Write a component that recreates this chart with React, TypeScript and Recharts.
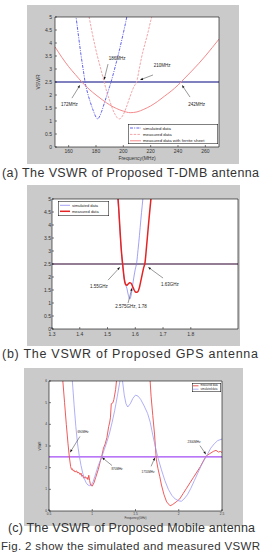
import {
  LineChart,
  Line,
  XAxis,
  YAxis,
  CartesianGrid,
  ReferenceLine,
  ReferenceDot,
  Legend,
} from "recharts";

type Pt = [number, number];

const FONT = '"Liberation Sans", Arial, sans-serif';
const VSWR_LIMIT = 2.5;

// (a) T-DMB antenna, frequency in MHz
const tdmbFreqTicks = [160, 180, 200, 220, 240, 260];
const tdmbVswrTicks = [0, 0.5, 1, 1.5, 2, 2.5, 3, 3.5, 4, 4.5, 5];
const tdmbSimulated: Pt[] = [
  [164, 5.6], [165.4, 5.0], [167, 4.35], [169, 3.55], [171, 2.85], [172, 2.5],
  [174, 2.05], [176, 1.7], [178, 1.4], [180, 1.15], [181.2, 1.08], [182, 1.12],
  [184, 1.35], [186, 1.67], [188, 2.0], [190, 2.33], [191, 2.5], [193, 2.88],
  [195, 3.28], [197, 3.7], [199, 4.15], [201, 4.62], [202.5, 5.0], [203.5, 5.3],
];
const tdmbMeasured: Pt[] = [
  [174, 5.3], [175, 5.0], [177, 4.45], [179, 3.95], [181, 3.5], [183, 3.1],
  [185, 2.7], [186, 2.5], [188, 2.1], [190, 1.78], [192, 1.48], [194, 1.25],
  [196, 1.1], [197, 1.08], [198, 1.1], [200, 1.25], [202, 1.5], [204, 1.8],
  [206, 2.1], [208, 2.35], [209.7, 2.5], [212, 3.1], [214, 3.6], [216, 4.0],
  [218, 4.4], [220, 4.85], [221, 5.05], [222, 5.3],
];
const tdmbFerrite: Pt[] = [
  [150, 3.85], [155, 3.45], [160, 3.09], [165, 2.78], [170, 2.48], [175, 2.22],
  [180, 2.0], [185, 1.8], [190, 1.62], [195, 1.48], [200, 1.38], [205, 1.32],
  [210, 1.35], [215, 1.45], [220, 1.58], [225, 1.75], [230, 1.95], [235, 2.15],
  [240, 2.38], [245, 2.65], [250, 2.92], [255, 3.2], [260, 3.5], [265, 3.82],
  [270, 4.15],
];
const tdmbMarks = [
  { text: "172MHz", label: [160.5, 1.65] as Pt, from: [162.4, 1.88] as Pt, to: [168.3, 2.38] as Pt },
  { text: "186MHz", label: [195.4, 3.42] as Pt, from: [188.8, 3.19] as Pt, to: [185.9, 2.58] as Pt },
  { text: "210MHz", label: [228.3, 3.12] as Pt, from: [221.7, 2.77] as Pt, to: [212.2, 2.58] as Pt },
  { text: "242MHz", label: [253.7, 1.65] as Pt, from: [248.8, 1.92] as Pt, to: [242.9, 2.38] as Pt },
];

// (b) GPS antenna, frequency in GHz
const gpsFreqTicks = [1.3, 1.4, 1.5, 1.6, 1.7, 1.8];
const gpsVswrTicks = [0, 0.5, 1, 1.5, 2, 2.5, 3, 3.5, 4, 4.5, 5];
const gpsSimulated: Pt[] = [
  [1.535, 5.3], [1.54, 4.6], [1.545, 3.75], [1.55, 2.95], [1.555, 2.4], [1.56, 1.95],
  [1.565, 1.72], [1.57, 1.55], [1.575, 1.3], [1.58, 1.15], [1.585, 1.3], [1.59, 1.65],
  [1.595, 2.0], [1.6, 2.3], [1.605, 2.55], [1.61, 3.05], [1.615, 3.6], [1.62, 4.2],
  [1.625, 4.75], [1.63, 5.3],
];
const gpsMeasured: Pt[] = [
  [1.535, 5.4], [1.54, 4.7], [1.545, 3.8], [1.55, 3.0], [1.555, 2.45], [1.56, 1.95],
  [1.565, 1.72], [1.57, 1.68], [1.575, 1.74], [1.58, 1.78], [1.585, 1.76], [1.59, 1.65],
  [1.595, 1.52], [1.6, 1.43], [1.605, 1.41], [1.61, 1.45], [1.615, 1.6], [1.62, 1.85],
  [1.625, 2.1], [1.63, 2.35], [1.635, 2.55], [1.64, 3.1], [1.645, 3.7], [1.65, 4.3],
  [1.655, 4.85], [1.66, 5.4],
];
const gpsMarks = [
  { text: "1.55GHz", label: [1.469, 1.62] as Pt, from: [1.502, 1.88] as Pt, to: [1.545, 2.38] as Pt },
  { text: "1.63GHz", label: [1.725, 1.73] as Pt, from: [1.7, 1.96] as Pt, to: [1.646, 2.38] as Pt },
  { text: "2.575GHz, 1.78", label: [1.585, 0.85] as Pt, from: [1.574, 1.0] as Pt, to: [1.588, 1.58] as Pt },
];

// (c) Mobile antenna, frequency in GHz
const mobileFreqTicks = [0.5, 1, 1.5, 2, 2.5];
const mobileVswrTicks = [0, 1, 2, 3, 4, 5, 6];
const mobileMeasured: Pt[] = [
  [0.64, 7.0], [0.66, 6.0], [0.68, 5.0], [0.7, 4.0], [0.72, 3.1], [0.735, 2.5],
  [0.75, 2.05], [0.76, 1.92], [0.77, 1.95], [0.78, 1.85], [0.79, 1.88], [0.8, 1.8],
  [0.82, 1.85], [0.83, 1.75], [0.84, 1.8], [0.86, 1.68], [0.87, 1.75], [0.88, 1.6],
  [0.89, 1.65], [0.9, 1.52], [0.92, 1.58], [0.93, 1.5], [0.94, 1.55], [0.95, 1.45],
  [0.96, 1.65], [0.97, 1.4], [0.98, 1.2], [1.0, 1.15], [1.02, 1.3], [1.04, 1.55],
  [1.07, 1.92], [1.09, 2.25], [1.11, 2.53], [1.13, 2.9], [1.15, 3.1], [1.17, 3.4],
  [1.19, 3.9], [1.2, 4.06], [1.21, 4.3], [1.22, 4.95], [1.24, 5.0], [1.25, 5.15],
  [1.27, 5.6], [1.28, 6.0], [1.3, 6.8], [1.45, 9.0], [1.64, 7.5], [1.66, 6.6],
  [1.68, 5.3], [1.7, 4.4], [1.72, 3.55], [1.74, 2.4], [1.76, 1.95], [1.78, 1.6],
  [1.8, 1.2], [1.83, 0.75], [1.86, 0.42], [1.9, 0.24], [1.93, 0.3], [1.97, 0.42],
  [2.01, 0.55], [2.05, 0.8], [2.09, 1.05], [2.13, 1.3], [2.17, 1.55], [2.21, 1.8],
  [2.25, 2.05], [2.29, 2.35], [2.32, 2.55], [2.36, 2.65], [2.4, 2.75], [2.43, 2.8],
  [2.46, 2.72], [2.48, 2.75], [2.5, 2.7],
];
const mobileSimulated: Pt[] = [
  [0.76, 6.6], [0.77, 6.0], [0.79, 4.9], [0.81, 3.9], [0.83, 3.1], [0.85, 2.55],
  [0.87, 2.1], [0.89, 1.75], [0.91, 1.48], [0.93, 1.3], [0.95, 1.2], [0.97, 1.17],
  [0.99, 1.2], [1.01, 1.35], [1.03, 1.6], [1.05, 1.85], [1.07, 2.1], [1.09, 2.3],
  [1.11, 2.5], [1.14, 2.85], [1.17, 3.2], [1.2, 3.6], [1.23, 4.1], [1.26, 4.65],
  [1.29, 5.3], [1.32, 6.0], [1.335, 6.8], [1.345, 6.6], [1.35, 6.0], [1.37, 5.35],
  [1.39, 4.95], [1.41, 4.8], [1.44, 4.95], [1.47, 5.2], [1.5, 5.35], [1.53, 5.3],
  [1.56, 5.15], [1.6, 4.85], [1.64, 4.5], [1.67, 4.1], [1.7, 3.5], [1.73, 2.95],
  [1.76, 2.45], [1.8, 1.9], [1.84, 1.4], [1.88, 1.0], [1.92, 0.72], [1.96, 0.55],
  [2.0, 0.47], [2.03, 0.45], [2.06, 0.55], [2.1, 0.75], [2.14, 1.05], [2.18, 1.4],
  [2.22, 1.75], [2.26, 2.1], [2.3, 2.4], [2.33, 2.6], [2.37, 2.9], [2.41, 3.1],
  [2.45, 3.25], [2.5, 3.32],
];
const mobileMarks = [
  { text: "690MHz", label: [0.893, 3.66] as Pt, from: [0.858, 3.44] as Pt, to: [0.743, 2.7] as Pt },
  { text: "870MHz", label: [1.286, 1.92] as Pt, from: [1.228, 2.1] as Pt, to: [1.113, 2.47] as Pt },
  { text: "1755MHz", label: [1.645, 1.79] as Pt, from: [1.68, 2.06] as Pt, to: [1.725, 2.47] as Pt },
  { text: "2300MHz", label: [2.176, 3.2] as Pt, from: [2.245, 3.02] as Pt, to: [2.315, 2.61] as Pt },
];

type Series = { name: string; pts: Pt[]; color: string; width: number; dash?: string };
type Mark = { text: string; label: Pt; from: Pt; to: Pt };

// line with a small filled head at its end point
function Arrow(props: any) {
  const { x1, y1, x2, y2 } = props;
  const a = Math.atan2(y2 - y1, x2 - x1);
  const len = 3;
  const half = 1.1;
  const bx = x2 - len * Math.cos(a);
  const by = y2 - len * Math.sin(a);
  const pts = `${x2},${y2} ${bx - half * Math.sin(a)},${by + half * Math.cos(a)} ${bx + half * Math.sin(a)},${by - half * Math.cos(a)}`;
  return (
    <g>
      <line x1={x1} y1={y1} x2={bx} y2={by} stroke="#333" strokeWidth={0.5} />
      <polygon points={pts} fill="#111" />
    </g>
  );
}

type LegendSpec = {
  x: number; y: number; w: number; h: number;
  font: number; first: number; step: number; sx: number; sample: number;
  items: Series[];
};

function legendBox(lg: LegendSpec) {
  return () => (
    <svg width={lg.w} height={lg.h} style={{ display: "block" }}>
      <rect x={0.25} y={0.25} width={lg.w - 0.5} height={lg.h - 0.5} fill="#fff" stroke="#000" strokeWidth={0.5} />
      {lg.items.map((s, i) => {
        const y = lg.first + i * lg.step;
        return (
          <g key={s.name}>
            <line x1={lg.sx} x2={lg.sx + lg.sample} y1={y} y2={y} stroke={s.color} strokeWidth={s.width} strokeDasharray={s.dash} />
            <text x={lg.sx + lg.sample + 2} y={y} dominantBaseline="central" fontSize={lg.font} fontFamily={FONT} fill="#222">
              {s.name}
            </text>
          </g>
        );
      })}
    </svg>
  );
}

type PanelProps = {
  left: number; top: number; width: number; height: number;
  margin: { top: number; right: number; bottom: number; left: number };
  xDomain: [number, number]; xTicks: number[];
  yDomain: [number, number]; yTicks: number[];
  xHeight: number; yWidth: number;
  tickFont: number; xTickGap: number; yTickGap: number;
  series: Series[]; marks: Mark[]; markFont: number;
  limitColor: string; limitWidth: number;
  lineType: "monotone" | "linear";
  legend: LegendSpec;
  xTitle?: string; yTitle?: string; titleFont?: number; xTitleOffset?: number; yTitleOffset?: number;
};

function VswrPanel(p: PanelProps) {
  const tick = { fontSize: p.tickFont, fill: "#333", fontFamily: FONT };
  const axisLine = { stroke: "#000", strokeWidth: 0.6 };
  const tickLine = { stroke: "#000", strokeWidth: 0.5 };
  return (
    <div style={{ position: "absolute", left: p.left, top: p.top, width: p.width, height: p.height, background: "#cacaca" }}>
      <LineChart width={p.width} height={p.height} margin={p.margin}>
        <CartesianGrid horizontal={false} vertical={false} fill="#fff" />
        <XAxis
          dataKey="f"
          type="number"
          domain={p.xDomain}
          ticks={p.xTicks}
          interval={0}
          allowDataOverflow
          height={p.xHeight}
          tick={tick}
          tickSize={-2}
          tickMargin={p.xTickGap}
          axisLine={axisLine}
          tickLine={tickLine}
          label={
            p.xTitle
              ? { value: p.xTitle, position: "insideBottom", offset: p.xTitleOffset, fontSize: p.titleFont, fill: "#333", fontFamily: FONT }
              : undefined
          }
        />
        <XAxis xAxisId="top" orientation="top" type="number" domain={p.xDomain} ticks={p.xTicks} interval={0} allowDataOverflow height={1} tick={false} tickSize={-2} axisLine={axisLine} tickLine={tickLine} />
        <YAxis
          type="number"
          domain={p.yDomain}
          ticks={p.yTicks}
          interval={0}
          allowDataOverflow
          width={p.yWidth}
          tick={tick}
          tickSize={-2}
          tickMargin={p.yTickGap}
          axisLine={axisLine}
          tickLine={tickLine}
          label={
            p.yTitle
              ? { value: p.yTitle, angle: -90, position: "insideLeft", offset: p.yTitleOffset, fontSize: p.titleFont, fill: "#333", fontFamily: FONT, style: { textAnchor: "middle" } }
              : undefined
          }
        />
        <YAxis yAxisId="right" orientation="right" type="number" domain={p.yDomain} ticks={p.yTicks} interval={0} allowDataOverflow width={1} tick={false} tickSize={-2} axisLine={axisLine} tickLine={tickLine} />
        <ReferenceLine y={VSWR_LIMIT} stroke={p.limitColor} strokeWidth={p.limitWidth} />
        {p.series.map((s) => (
          <Line
            key={s.name}
            data={s.pts.map(([f, v]) => ({ f, v }))}
            dataKey="v"
            name={s.name}
            type={p.lineType}
            stroke={s.color}
            strokeWidth={s.width}
            strokeDasharray={s.dash}
            dot={false}
            activeDot={false}
            isAnimationActive={false}
          />
        ))}
        {p.marks.map((m) => (
          <ReferenceLine key={"a" + m.text} segment={[{ x: m.from[0], y: m.from[1] }, { x: m.to[0], y: m.to[1] }]} shape={Arrow} />
        ))}
        {p.marks.map((m) => (
          <ReferenceDot
            key={"t" + m.text}
            x={m.label[0]}
            y={m.label[1]}
            r={0}
            shape={(d: any) => (
              <text x={d.cx} y={d.cy} textAnchor="middle" dominantBaseline="central" fontSize={p.markFont} fontFamily={FONT} fill="#222">
                {m.text}
              </text>
            )}
          />
        ))}
        <Legend
          layout="vertical"
          align="center"
          verticalAlign="middle"
          content={legendBox(p.legend)}
          wrapperStyle={{ left: p.legend.x, top: p.legend.y, width: p.legend.w, height: p.legend.h }}
        />
      </LineChart>
    </div>
  );
}

const tdmbSeries: Series[] = [
  { name: "simulated data", pts: tdmbSimulated, color: "#5050ea", width: 0.9, dash: "3 1.2 1 1.2" },
  { name: "measured data", pts: tdmbMeasured, color: "#f4a6aa", width: 1, dash: "2.5 1.2" },
  { name: "measured data with ferrite sheet", pts: tdmbFerrite, color: "#f48a8c", width: 1 },
];
const gpsSeries: Series[] = [
  { name: "simulated data", pts: gpsSimulated, color: "#7878f0", width: 0.7 },
  { name: "measured data", pts: gpsMeasured, color: "#e42424", width: 1.5 },
];
const mobileSeries: Series[] = [
  { name: "measured data", pts: mobileMeasured, color: "#ee4848", width: 0.9 },
  { name: "simulated data", pts: mobileSimulated, color: "#9a9af5", width: 0.8 },
];

const captions = [
  { text: "(a) The VSWR of Proposed T-DMB antenna", x: 2, y: 177, w: 257, size: 12.5 },
  { text: "(b) The VSWR of Proposed GPS antenna", x: 2, y: 358, w: 256, size: 12.5 },
  { text: "(c) The VSWR of Proposed Mobile antenna", x: 8, y: 532, w: 247, size: 12.5 },
  { text: "Fig. 2 show the simulated and measured VSWR", x: 1, y: 550, w: 259, size: 11.5 },
];

export default function App() {
  return (
    <div style={{ position: "absolute", left: 0, top: 0, width: 262, height: 554, background: "#fff", overflow: "hidden" }}>
      <VswrPanel
        left={27} top={5} width={212} height={159}
        margin={{ top: 11, right: 19, bottom: 0, left: 6 }}
        xDomain={[150, 270]} xTicks={tdmbFreqTicks}
        yDomain={[0, 5]} yTicks={tdmbVswrTicks}
        xHeight={17} yWidth={22}
        tickFont={5} xTickGap={4} yTickGap={5}
        series={tdmbSeries} marks={tdmbMarks} markFont={4.5}
        limitColor="#5656aa" limitWidth={1.5}
        lineType="monotone"
        legend={{ x: 101, y: 119, w: 90, h: 20, font: 4.3, first: 4, step: 6.4, sx: 2, sample: 11, items: tdmbSeries }}
        xTitle="Frequency(MHz)" yTitle="VSWR" titleFont={5} xTitleOffset={4} yTitleOffset={5}
      />
      <VswrPanel
        left={27} top={185} width={213} height={161}
        margin={{ top: 13, right: 1, bottom: 0, left: 3 }}
        xDomain={[1.3, 1.97]} xTicks={gpsFreqTicks}
        yDomain={[0, 5]} yTicks={gpsVswrTicks}
        xHeight={17} yWidth={22}
        tickFont={5} xTickGap={5} yTickGap={3}
        series={gpsSeries} marks={gpsMarks} markFont={4.5}
        limitColor="#6e5270" limitWidth={1.4}
        lineType="monotone"
        legend={{ x: 31, y: 16, w: 51, h: 15, font: 4, first: 4.3, step: 6, sx: 2, sample: 10, items: gpsSeries }}
      />
      <VswrPanel
        left={24} top={368} width={219} height={158}
        margin={{ top: 12, right: 20, bottom: 0, left: 3 }}
        xDomain={[0.5, 2.5]} xTicks={mobileFreqTicks}
        yDomain={[0, 6]} yTicks={mobileVswrTicks}
        xHeight={15} yWidth={22}
        tickFont={3.2} xTickGap={4} yTickGap={4}
        series={mobileSeries} marks={mobileMarks} markFont={3}
        limitColor="#a24cf5" limitWidth={1.2}
        lineType="linear"
        legend={{ x: 168, y: 15, w: 29, h: 9, font: 2.6, first: 2.8, step: 3.4, sx: 1, sample: 5.5, items: mobileSeries }}
        xTitle="Frequency(GHz)" yTitle="VSWR" titleFont={3} xTitleOffset={7} yTitleOffset={13}
      />
      <svg width={262} height={554} style={{ position: "absolute", left: 0, top: 0, pointerEvents: "none" }}>
        {captions.map((c) => (
          <text key={c.text} x={c.x} y={c.y} textLength={c.w} lengthAdjust="spacing" fontSize={c.size} fontFamily={FONT} fill="#333">
            {c.text}
          </text>
        ))}
      </svg>
    </div>
  );
}
